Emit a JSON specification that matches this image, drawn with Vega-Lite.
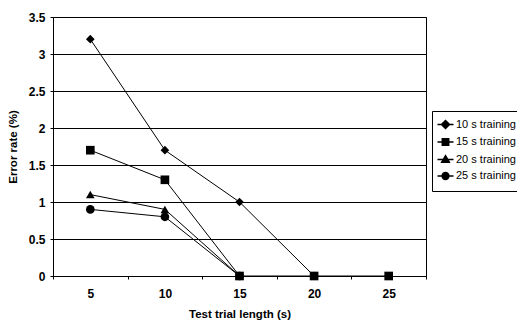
{
  "$schema": "https://vega.github.io/schema/vega-lite/v6.json",
  "width": 373,
  "height": 259,
  "autosize": {"type": "none"},
  "padding": {"left": 53, "top": 17, "right": 91, "bottom": 47},
  "background": "white",
  "config": {
    "font": "Liberation Sans",
    "view": {"stroke": "black", "strokeWidth": 1},
    "axis": {
      "labelFont": "Liberation Sans",
      "titleFont": "Liberation Sans",
      "labelFontWeight": "bold",
      "titleFontWeight": "bold",
      "labelFontSize": 12,
      "titleFontSize": 11.5,
      "labelColor": "black",
      "titleColor": "black",
      "domainColor": "black",
      "tickColor": "black"
    }
  },
  "data": {
    "values": [
      {"t": 5, "series": "10 s training", "err": 3.2},
      {"t": 10, "series": "10 s training", "err": 1.7},
      {"t": 15, "series": "10 s training", "err": 1.0},
      {"t": 20, "series": "10 s training", "err": 0},
      {"t": 5, "series": "20 s training", "err": 1.1},
      {"t": 10, "series": "20 s training", "err": 0.9},
      {"t": 15, "series": "20 s training", "err": 0},
      {"t": 5, "series": "25 s training", "err": 0.9},
      {"t": 10, "series": "25 s training", "err": 0.8},
      {"t": 15, "series": "25 s training", "err": 0},
      {"t": 5, "series": "15 s training", "err": 1.7},
      {"t": 10, "series": "15 s training", "err": 1.3},
      {"t": 15, "series": "15 s training", "err": 0},
      {"t": 20, "series": "15 s training", "err": 0},
      {"t": 25, "series": "15 s training", "err": 0}
    ]
  },
  "encoding": {
    "x": {
      "field": "t",
      "type": "ordinal",
      "scale": {"type": "band", "paddingInner": 0, "paddingOuter": 0},
      "axis": {
        "title": "Test trial length (s)",
        "labelAngle": 0,
        "tickBand": "extent",
        "tickSize": 3,
        "labelPadding": 9,
        "titlePadding": 9,
        "grid": false
      }
    },
    "y": {
      "field": "err",
      "type": "quantitative",
      "scale": {"domain": [0, 3.5], "nice": false},
      "axis": {
        "title": "Error rate (%)",
        "values": [0, 0.5, 1, 1.5, 2, 2.5, 3, 3.5],
        "labelExpr": "datum.value",
        "grid": true,
        "gridColor": "black",
        "gridOpacity": 1,
        "gridWidth": 1,
        "tickSize": 3,
        "labelPadding": 5,
        "titlePadding": 10
      }
    }
  },
  "layer": [
    {
      "mark": {"type": "line", "color": "black", "strokeWidth": 1},
      "encoding": {"detail": {"field": "series"}}
    },
    {
      "mark": {"type": "point", "filled": true, "color": "black", "opacity": 1, "size": 75},
      "encoding": {
        "shape": {
          "field": "series",
          "type": "nominal",
          "scale": {
            "domain": ["10 s training", "15 s training", "20 s training", "25 s training"],
            "range": ["diamond", "square", "triangle-up", "circle"]
          },
          "legend": null
        }
      }
    },
    {
      "transform": [{"filter": "datum.t > 100"}],
      "mark": {"type": "point", "filled": true, "fill": "black", "stroke": "black", "strokeWidth": 1, "opacity": 1},
      "encoding": {
        "shape": {
          "field": "series",
          "type": "nominal",
          "scale": {
            "domain": ["10 s training", "15 s training", "20 s training", "25 s training"],
            "range": [
              "M-2,0H2M0,-1L1,0L0,1L-1,0Z",
              "M-2,0H2M-0.8,-0.8H0.8V0.8H-0.8Z",
              "M-2,0H2M0,-0.95L0.95,0.7H-0.95Z",
              "M-2,0H2M-0.85,0A0.85,0.85,0,1,0,0.85,0A0.85,0.85,0,1,0,-0.85,0Z"
            ]
          },
          "legend": {
            "title": null,
            "orient": "none",
            "legendX": 379,
            "legendY": 94,
            "padding": 8,
            "strokeColor": "black",
            "fillColor": "white",
            "symbolSize": 64,
            "labelFont": "Liberation Sans",
            "labelFontSize": 11,
            "labelColor": "black",
            "labelOffset": 5,
            "rowPadding": 3.5,
            "encode": {
              "symbols": {
                "update": {
                  "fill": {"value": "black"},
                  "stroke": {"value": "black"},
                  "strokeWidth": {"value": 1},
                  "opacity": {"value": 1}
                }
              }
            }
          }
        }
      }
    }
  ],
  "resolve": {"scale": {"shape": "independent"}, "legend": {"shape": "independent"}}
}
